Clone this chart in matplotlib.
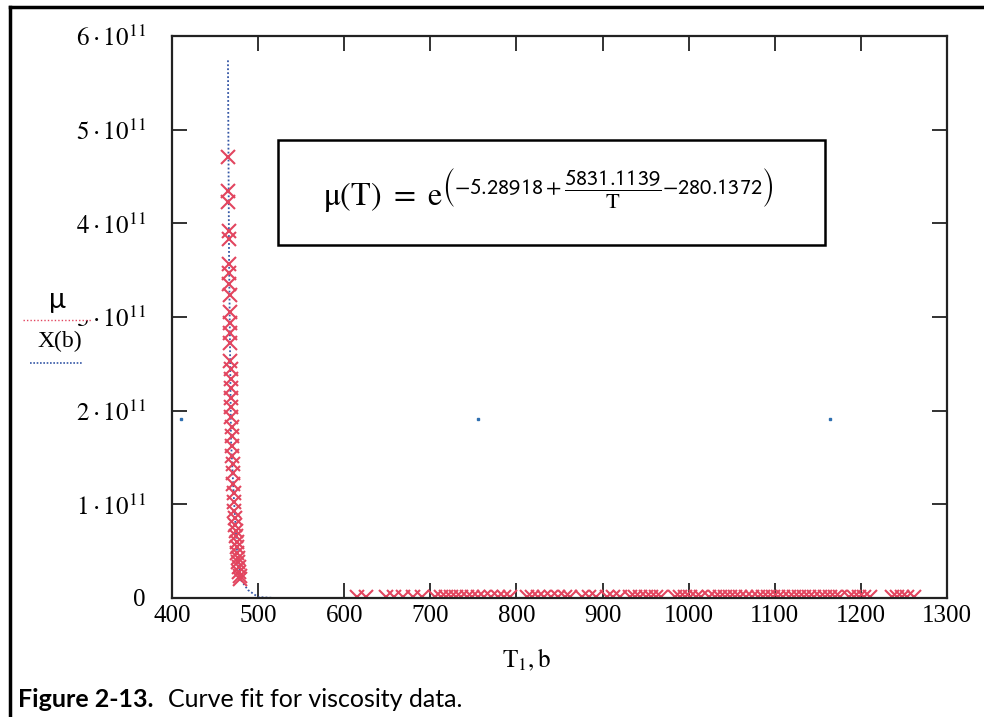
import numpy as np
import matplotlib.pyplot as plt
from matplotlib.patches import Rectangle
from matplotlib.lines import Line2D

plt.rcParams['font.family'] = ['Liberation Serif', 'DejaVu Serif']
plt.rcParams['mathtext.fontset'] = 'stix'

# measured viscosity points, steep part (T, mu in units of 1e11)
T_steep = [465.0, 465.3, 465.5, 465.8, 466.0, 466.2, 466.4, 466.6, 466.8, 467.0,
           467.2, 467.4, 467.6, 467.8, 468.0, 468.2, 468.4, 468.6, 468.8, 469.0,
           469.3, 469.6, 469.9, 470.2, 470.5, 470.8, 471.2, 471.6, 472.0, 472.5,
           473.0, 473.5, 474.0, 474.5, 475.0, 475.5, 476.0, 476.5, 477.0, 477.5,
           478.0, 478.5, 479.0]
mu_steep = [4.71, 4.34, 4.23, 3.92, 3.83, 3.57, 3.47, 3.35, 3.23, 3.05,
            2.94, 2.83, 2.72, 2.53, 2.44, 2.34, 2.24, 2.13, 2.04, 1.93,
            1.83, 1.73, 1.62, 1.52, 1.43, 1.33, 1.22, 1.12, 1.02, 0.93,
            0.85, 0.78, 0.72, 0.66, 0.60, 0.54, 0.48, 0.43, 0.38, 0.33,
            0.28, 0.23, 0.20]

# measured points at high temperature, all close to zero
T_flat = [615, 625, 648, 658, 668, 680, 690,
          705, 712, 718, 724, 730, 736, 742, 748,
          755, 762, 770, 778, 786, 792,
          812, 818, 825, 832, 840, 848, 856, 862,
          876, 884, 892, 905, 912, 920,
          932, 938, 944, 950, 956, 962, 968,
          984, 990, 996, 1002, 1008, 1014,
          1024, 1030, 1036, 1042, 1048, 1054, 1060, 1066,
          1074, 1080, 1086, 1092, 1098, 1104, 1110, 1116, 1122, 1128,
          1134, 1140, 1146, 1152, 1158, 1164, 1170, 1176,
          1186, 1192, 1198, 1204, 1210,
          1236, 1242, 1248, 1254, 1262]
mu_flat = [0.01] * len(T_flat)

# fitted curve X(b)
T_fit = [465.0, 466.2, 468.5, 472.0, 475.5, 480.1, 488.3, 499.9, 520, 600, 800, 1000, 1300]
mu_fit = [5.74, 3.70, 1.68, 1.04, 0.51, 0.19, 0.085, 0.01, 0.0, 0.0, 0.0, 0.0, 0.0]

# stray dots near 2e11
T_dots = [411, 755, 1164]
mu_dots = [1.915, 1.915, 1.915]

x_ticks = [400, 500, 600, 700, 800, 900, 1000, 1100, 1200, 1300]
y_ticks = [0, 1, 2, 3, 4, 5, 6]
y_labels = ['0'] + [r'$%d\cdot10^{11}$' % v for v in y_ticks[1:]]

W, H = 984, 717
fig = plt.figure(figsize=(W / 100, H / 100), dpi=100)


def fx(px):
    return px / W


def fy(py):
    return 1 - py / H


ax = fig.add_axes([fx(172), fy(598), (947 - 172) / W, (598 - 36) / H])

e = 1e11
red = '#e2455f'
blue = '#3557a6'
ax.plot(T_fit, np.array(mu_fit) * e, linestyle=(0, (1, 1.2)), color=blue, lw=1.3)
ax.plot(T_steep, np.array(mu_steep) * e, 'x', color=red, ms=10.5, mew=1.5)
ax.plot(T_flat, np.array(mu_flat) * e, 'x', color=red, ms=10.5, mew=1.5)
ax.plot(T_dots, np.array(mu_dots) * e, 's', color='#2f6fb0', ms=2)

ax.set_xlim(400, 1300)
ax.set_ylim(0, 6e11)
ax.set_xticks(x_ticks)
ax.set_yticks([v * e for v in y_ticks])
ax.set_yticklabels(y_labels)
ax.tick_params(direction='in', length=11, width=1.3, top=True, right=True,
               labelsize=18, color='#222222')
ax.tick_params(axis='y', pad=19)
ax.tick_params(axis='x', pad=5)
for s in ax.spines.values():
    s.set_linewidth(1.6)
    s.set_color('#222222')

ax.set_xlabel(r'$\mathrm{T_1, b}$', fontsize=18)
ax.xaxis.set_label_coords((527 - 172) / (947 - 172), -(647 - 598) / (598 - 36))

# legend-like labels on the left
fig.add_artist(Rectangle((fx(23), fy(320)), (92 - 23) / W, (320 - 282) / H,
                         transform=fig.transFigure, facecolor='white',
                         edgecolor='none', zorder=5))
fig.add_artist(Line2D([fx(23), fx(92)], [fy(320), fy(320)], transform=fig.transFigure,
                      linestyle=(0, (1, 1.5)), color=red, lw=1, zorder=6))
fig.text(fx(57), fy(300), 'μ', fontsize=20, family=['Lato', 'DejaVu Sans'],
         ha='center', va='center', zorder=6)
fig.text(fx(60), fy(341), 'X(b)', fontsize=17, ha='center', va='center', zorder=6)
fig.add_artist(Line2D([fx(30), fx(82)], [fy(363), fy(363)], transform=fig.transFigure,
                      linestyle=(0, (1, 1)), color=blue, lw=1.2, zorder=6))

# equation box
fig.add_artist(Rectangle((fx(278), fy(245)), (825 - 278) / W, (245 - 140) / H,
                         transform=fig.transFigure, facecolor='white',
                         edgecolor='black', lw=1.8, zorder=4))
fig.text(fx(548), fy(191),
         r'$\mathrm{μ}(\mathrm{T})\ =\ \mathrm{e}^{\left(\mathsf{-5.28918+}'
         r'\dfrac{\mathsf{5831.1139}}{\mathrm{T}}\mathsf{-280.1372}\right)}$',
         fontsize=23, ha='center', va='center', zorder=5)

# outer frame
fig.add_artist(Line2D([fx(10), fx(10)], [fy(7), 0], transform=fig.transFigure,
                      color='black', lw=2.5))
fig.add_artist(Line2D([fx(10), 1], [fy(7), fy(7)], transform=fig.transFigure,
                      color='black', lw=2.5))

# caption
cap = fig.text(fx(18), fy(707), 'Figure 2-13.', fontsize=18, weight='bold',
               family=['Lato', 'DejaVu Sans'], va='baseline')
fig.canvas.draw()
bb = cap.get_window_extent()
fig.text((bb.x1 + 14) / W, fy(707), 'Curve fit for viscosity data.', fontsize=18,
         family=['Lato', 'DejaVu Sans'], va='baseline')

fig.savefig('out.png', dpi=100)
